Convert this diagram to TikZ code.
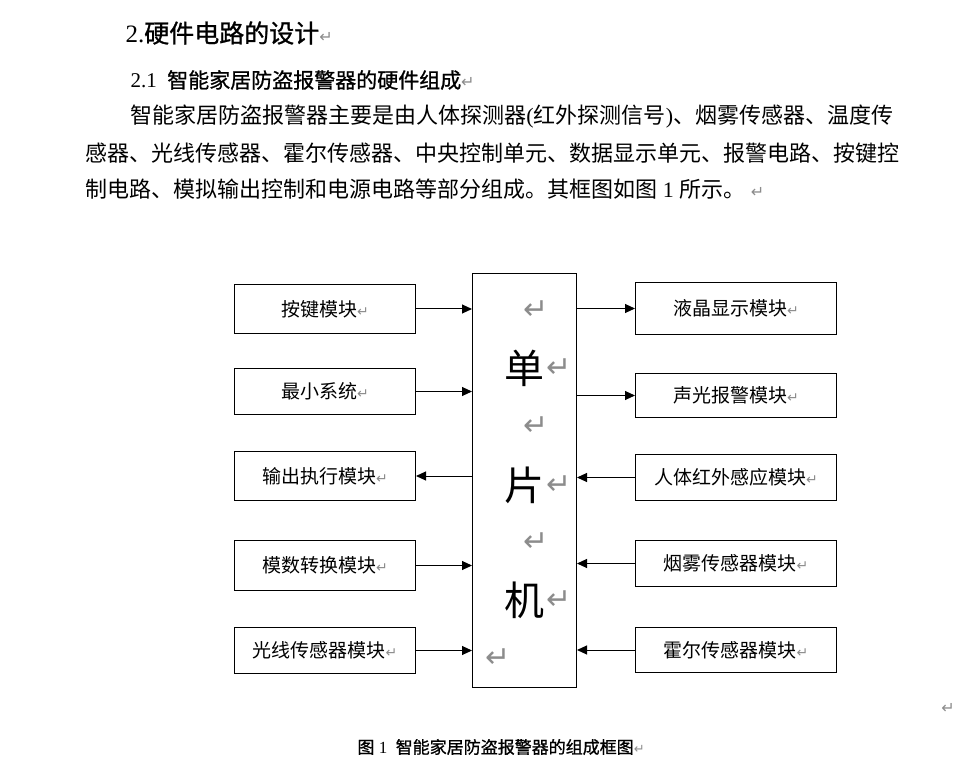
\documentclass[tikz,border=0pt]{standalone}
\usepackage{fontspec}
\setmainfont{Liberation Serif}
\newfontfamily\cjk{Noto Sans CJK SC}
\newfontfamily\cjkb[FakeBold=1]{Noto Sans CJK SC}
\newfontfamily\symfont{DejaVu Sans}
\usetikzlibrary{positioning,arrows.meta}
\definecolor{markgray}{RGB}{140,140,140}
\newcommand{\retmk}[1][14]{{\symfont\fontsize{#1}{#1}\selectfont\textcolor{markgray}{↵}}}

\begin{document}
\begin{tikzpicture}[x=1pt,y=-1pt,line width=1pt,
  lbox/.style={draw,minimum width=181pt,inner sep=0pt,font=\cjk\fontsize{19}{19}\selectfont},
  rbox/.style={draw,minimum width=201pt,inner sep=0pt,font=\cjk\fontsize{19}{19}\selectfont},
  link/.style={-{Triangle[length=10pt,width=9pt]}},
  bigch/.style={inner sep=0pt,font=\cjk\fontsize{40}{40}\selectfont},
  bigmk/.style={inner sep=0pt}]
 \useasboundingbox (0,0) rectangle (978,778);
 \node[anchor=west,inner sep=0pt,font=\fontsize{25}{25}\selectfont] (title) at (125,33) {2.{\cjkb 硬件电路的设计}\retmk[16]};
 \node[anchor=west,inner sep=0pt,font=\fontsize{21}{21}\selectfont] (subtitle) at (130,80) {2.1\ \ {\cjkb 智能家居防盗报警器的硬件组成}\retmk[16]};
 \node[anchor=west,inner sep=0pt,font=\fontsize{22}{22}\selectfont] (line1) at (130,117) {{\cjk 智能家居防盗报警器主要是由人体探测器}({\cjk 红外探测信号}){\cjk 、烟雾传感器、温度传}};
 \node[anchor=west,inner sep=0pt,font=\fontsize{22}{22}\selectfont] (line2) at (85,153) {{\cjk 感器、光线传感器、霍尔传感器、中央控制单元、数据显示单元、报警电路、按键控}};
 \node[anchor=west,inner sep=0pt,font=\fontsize{22}{22}\selectfont] (line3) at (85,189) {{\cjk 制电路、模拟输出控制和电源电路等部分组成。其框图如图} 1 {\cjk 所示。}\ \retmk[16]};

 \node[draw,minimum width=104pt,minimum height=414pt,anchor=north west] (mcu) at (472,273) {};
 \node[bigch] (dan) at (524,368) {单};
 \node[bigch] (pian) at (524,485) {片};
 \node[bigch] (ji) at (524,600) {机};
 \node[bigmk] (mk1) at (536,310) {\retmk[30]};
 \node[bigmk,right=1pt of dan] (mk2) {\retmk[30]};
 \node[bigmk] (mk3) at (536,426) {\retmk[30]};
 \node[bigmk,right=1pt of pian] (mk4) {\retmk[30]};
 \node[bigmk] (mk5) at (536,542) {\retmk[30]};
 \node[bigmk,right=1pt of ji] (mk6) {\retmk[30]};
 \node[bigmk] (mk7) at (498,658) {\retmk[30]};

 \node[lbox,minimum height=49pt,below left=11pt and 56pt of mcu.north west] (key) {按键模块\retmk};
 \node[lbox,minimum height=46pt,below=34pt of key] (minsys) {最小系统\retmk};
 \node[lbox,minimum height=49pt,below=36pt of minsys] (output) {输出执行模块\retmk};
 \node[lbox,minimum height=50pt,below=39pt of output] (adc) {模数转换模块\retmk};
 \node[lbox,minimum height=46pt,below=36pt of adc] (light) {光线传感器模块\retmk};

 \node[rbox,minimum height=52pt,below right=9pt and 58pt of mcu.north east] (lcd) {液晶显示模块\retmk};
 \node[rbox,minimum height=44pt,below=38pt of lcd] (alarm) {声光报警模块\retmk};
 \node[rbox,minimum height=46pt,below=36pt of alarm] (pir) {人体红外感应模块\retmk};
 \node[rbox,minimum height=46pt,below=39pt of pir] (smoke) {烟雾传感器模块\retmk};
 \node[rbox,minimum height=45pt,below=40pt of smoke] (hall) {霍尔传感器模块\retmk};

 \draw[link] (key.east) -- (key.east -| mcu.west);
 \draw[link] (minsys.east) -- (minsys.east -| mcu.west);
 \draw[link] (output.east -| mcu.west) -- (output.east);
 \draw[link] (adc.east) -- (adc.east -| mcu.west);
 \draw[link] (light.east) -- (light.east -| mcu.west);
 \draw[link] (lcd.west -| mcu.east) -- (lcd.west);
 \draw[link] (alarm.west -| mcu.east) -- (alarm.west);
 \draw[link] (pir.west) -- (pir.west -| mcu.east);
 \draw[link] (smoke.west) -- (smoke.west -| mcu.east);
 \draw[link] (hall.west) -- (hall.west -| mcu.east);

 \node[bigmk] (mkend) at (948,708) {\retmk[16]};
 \node[anchor=west,inner sep=0pt,font=\fontsize{17}{17}\selectfont] (caption) at (357,747) {{\cjkb 图}\ 1\ \ {\cjkb 智能家居防盗报警器的组成框图}\retmk[13]};
\end{tikzpicture}
\end{document}
